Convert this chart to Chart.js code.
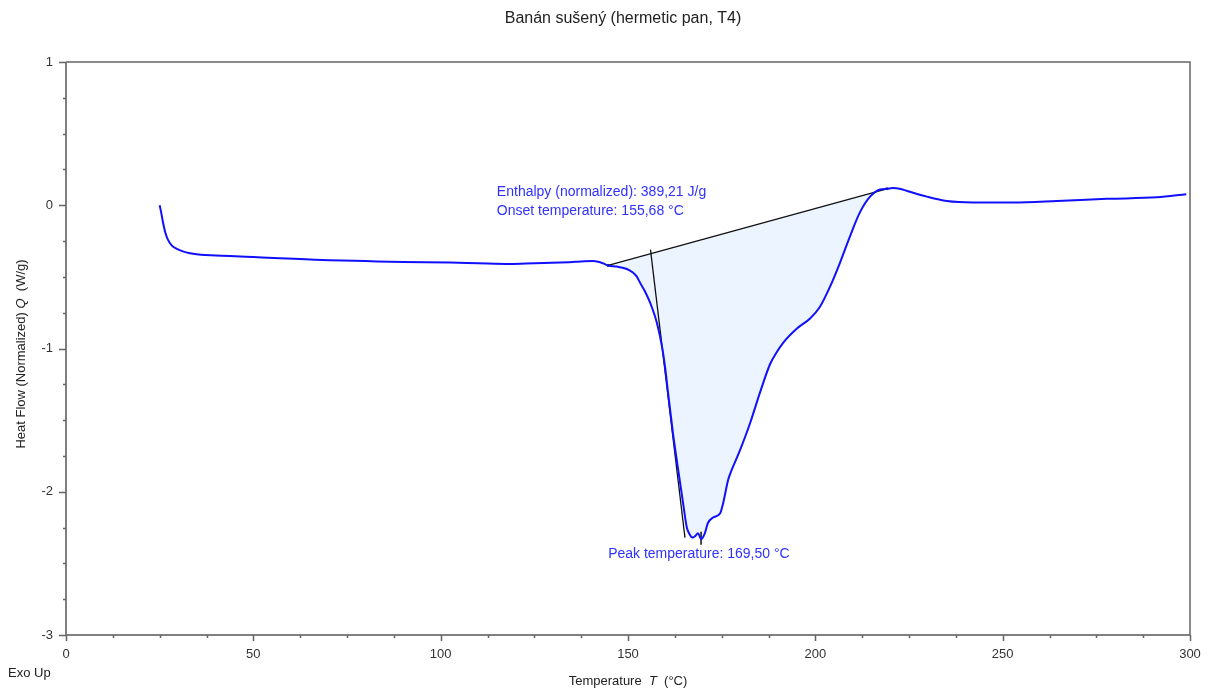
<!DOCTYPE html>
<html>
<head>
<meta charset="utf-8">
<title>Banán sušený DSC</title>
<script src="https://cdn.jsdelivr.net/npm/chart.js@4/dist/chart.umd.min.js"></script>
<style>
  body { margin: 0; background: #fff; }
  canvas { display: block; }
</style>
</head>
<body>
<canvas id="dscChart" width="1208" height="690"></canvas>
<script>
// DSC heat flow curve, temperature in °C, heat flow in W/g
const tempC = [25.0, 25.4, 25.9, 26.5, 27.2, 28.2, 29.6, 31.0, 33.1, 36, 40, 43.8, 50, 57.1, 64, 70.4, 80, 90,
  102.5, 110, 118.5, 125, 131.9, 136, 140.7, 143.3, 144.7, 147, 149.7, 151.3, 152.4, 153.2, 154.5, 155.9,
  157.7, 159.1, 159.9, 160.7, 162.0, 163.3, 164.7, 165.7, 166.5, 167.2, 167.9, 168.7, 169.5, 170.5, 171.3,
  172.7, 174.6, 175.4, 176.7, 177.2, 179.9, 182.6, 185.2, 187.9, 189.6, 191.4, 195.1, 198.6, 201.2, 203.9,
  206.6, 209.2, 211.9, 214.6, 217.3, 219.1, 220.7, 222.5, 224.5, 229.8, 235.1, 242.1, 252.8, 264.5, 277.8,
  291.2, 299.0];
const heatFlow = [0.00, -0.05, -0.12, -0.19, -0.24, -0.28, -0.305, -0.32, -0.335, -0.345, -0.35, -0.355, -0.362,
  -0.37, -0.377, -0.384, -0.39, -0.396, -0.40, -0.405, -0.41, -0.405, -0.40, -0.395, -0.39, -0.405, -0.42,
  -0.428, -0.445, -0.47, -0.50, -0.54, -0.60, -0.68, -0.82, -0.99, -1.13, -1.31, -1.59, -1.83, -2.08, -2.25,
  -2.30, -2.32, -2.31, -2.29, -2.33, -2.29, -2.22, -2.18, -2.15, -2.08, -1.92, -1.88, -1.71, -1.52, -1.31,
  -1.11, -1.03, -0.96, -0.86, -0.79, -0.71, -0.57, -0.40, -0.22, -0.05, 0.06, 0.11, 0.115, 0.12, 0.115,
  0.10, 0.06, 0.03, 0.02, 0.02, 0.03, 0.045, 0.055, 0.077];

// integration baseline of the melting peak
const baseT = [144.7, 219.1];
const baseQ = [-0.42, 0.115];
// onset tangent and peak marker
const tangentT = [156.0, 165.2];
const tangentQ = [-0.31, -2.32];
const peakT = [169.5, 169.5];
const peakQ = [-2.28, -2.37];

// result labels: [text, T, Q]
const resultLabels = [
  ['Enthalpy (normalized): 389,21 J/g', 115.0, 0.092],
  ['Onset temperature: 155,68 °C', 115.0, -0.04],
  ['Peak temperature: 169,50 °C', 144.7, -2.434]
];

const xTicks = { min: 0, max: 300, major: 50, minor: 12.5 };
const yTicks = { min: -3, max: 1, major: 1, minor: 0.25 };

const FONT = "'Liberation Sans', Arial, sans-serif";

function pts(xs, ys) {
  return xs.map((x, i) => ({ x: x, y: ys[i] }));
}

const curve = pts(tempC, heatFlow);
const peakArea = curve.filter(p => p.x >= baseT[0] && p.x <= baseT[1]);

const decorations = {
  id: 'decorations',
  afterDraw(chart) {
    const c = chart.ctx;
    const a = chart.chartArea;
    const xs = chart.scales.x, ys = chart.scales.y;
    c.save();

    // frame
    c.strokeStyle = '#808080';
    c.lineWidth = 2;
    c.beginPath();
    c.moveTo(a.left, a.top);
    c.lineTo(a.left, a.bottom);
    c.lineTo(a.right, a.bottom);
    c.stroke();
    c.strokeStyle = '#666';
    c.lineWidth = 1.5;
    c.beginPath();
    c.moveTo(a.left, a.top);
    c.lineTo(a.right, a.top);
    c.lineTo(a.right, a.bottom);
    c.stroke();

    // tick marks
    c.strokeStyle = '#666';
    c.lineWidth = 1.5;
    c.beginPath();
    for (let v = xTicks.min; v <= xTicks.max + 1e-9; v += xTicks.minor) {
      const px = Math.round(xs.getPixelForValue(v)) + 0.5;
      const len = Math.abs(v % xTicks.major) < 1e-6 ? 6 : 3;
      c.moveTo(px, a.bottom);
      c.lineTo(px, a.bottom + len);
    }
    for (let v = yTicks.min; v <= yTicks.max + 1e-9; v += yTicks.minor) {
      const py = Math.round(ys.getPixelForValue(v)) + 0.5;
      const len = Math.abs(v - Math.round(v)) < 1e-6 ? 7 : 3;
      c.moveTo(a.left, py);
      c.lineTo(a.left - len, py);
    }
    c.stroke();

    // title
    c.fillStyle = '#222';
    c.font = '16px ' + FONT;
    c.textAlign = 'center';
    c.textBaseline = 'middle';
    c.fillText('Banán sušený (hermetic pan, T4)', 623, 19);

    // axis titles with italic symbols
    const drawParts = (parts, cx, cy, rot) => {
      c.save();
      c.translate(cx, cy);
      c.rotate(rot);
      c.textAlign = 'left';
      c.textBaseline = 'middle';
      let w = 0;
      parts.forEach(p => { c.font = (p[1] ? 'italic ' : '') + '13px ' + FONT; w += c.measureText(p[0]).width; });
      let x = -w / 2;
      parts.forEach(p => {
        c.font = (p[1] ? 'italic ' : '') + '13px ' + FONT;
        c.fillText(p[0], x, 0);
        x += c.measureText(p[0]).width;
      });
      c.restore();
    };
    c.fillStyle = '#222';
    drawParts([['Temperature  ', false], ['T', true], ['  (°C)', false]], 628, 681, 0);
    drawParts([['Heat Flow (Normalized) ', false], ['Q', true], ['  (W/g)', false]], 21, 354, -Math.PI / 2);

    c.font = '13px ' + FONT;
    c.textAlign = 'left';
    c.fillText('Exo Up', 8, 673);

    // result labels
    c.fillStyle = '#3030ff';
    c.font = '14px ' + FONT;
    c.textBaseline = 'middle';
    resultLabels.forEach(r => {
      c.fillText(r[0], xs.getPixelForValue(r[1]), ys.getPixelForValue(r[2]));
    });
    c.restore();
  }
};

new Chart(document.getElementById('dscChart'), {
  type: 'scatter',
  data: {
    datasets: [
      {
        label: 'Heat Flow',
        data: curve,
        showLine: true,
        borderColor: '#1010ff',
        borderWidth: 2,
        pointRadius: 0,
        cubicInterpolationMode: 'monotone',
        fill: false
      },
      {
        label: 'Peak area',
        data: peakArea,
        showLine: true,
        borderWidth: 0,
        borderColor: 'rgba(0,0,0,0)',
        pointRadius: 0,
        cubicInterpolationMode: 'monotone',
        backgroundColor: '#ecf4ff',
        fill: 2
      },
      {
        label: 'Baseline',
        data: pts(baseT, baseQ),
        showLine: true,
        borderColor: '#111',
        borderWidth: 1.3,
        pointRadius: 1.8,
        pointStyle: 'rect',
        pointBackgroundColor: '#111',
        pointBorderWidth: 0,
        fill: false
      },
      {
        label: 'Onset tangent',
        data: pts(tangentT, tangentQ),
        showLine: true,
        borderColor: '#111',
        borderWidth: 1.3,
        pointRadius: 0,
        fill: false
      },
      {
        label: 'Peak',
        data: pts(peakT, peakQ),
        showLine: true,
        borderColor: '#111',
        borderWidth: 1.5,
        pointRadius: 0,
        fill: false
      }
    ]
  },
  options: {
    responsive: false,
    animation: false,
    layout: { padding: { left: 0, right: 18, top: 62, bottom: 0 } },
    plugins: {
      legend: { display: false },
      tooltip: { enabled: false },
      filler: { drawTime: 'beforeDatasetsDraw' }
    },
    scales: {
      x: {
        type: 'linear',
        min: xTicks.min,
        max: xTicks.max,
        grid: { display: false, drawTicks: false },
        border: { display: false },
        ticks: {
          stepSize: xTicks.major,
          padding: 12,
          color: '#333',
          font: { family: FONT, size: 13 },
          maxRotation: 0,
          autoSkip: false
        },
        afterFit(scale) {
          scale.height = 55;
          scale.paddingLeft = 0;
          scale.paddingRight = 0;
        }
      },
      y: {
        type: 'linear',
        min: yTicks.min,
        max: yTicks.max,
        grid: { display: false, drawTicks: false },
        border: { display: false },
        ticks: {
          stepSize: yTicks.major,
          padding: 13,
          color: '#333',
          font: { family: FONT, size: 13 }
        },
        afterFit(scale) {
          scale.width = 66;
          scale.paddingTop = 0;
          scale.paddingBottom = 0;
        }
      }
    }
  },
  plugins: [decorations]
});
</script>
</body>
</html>
